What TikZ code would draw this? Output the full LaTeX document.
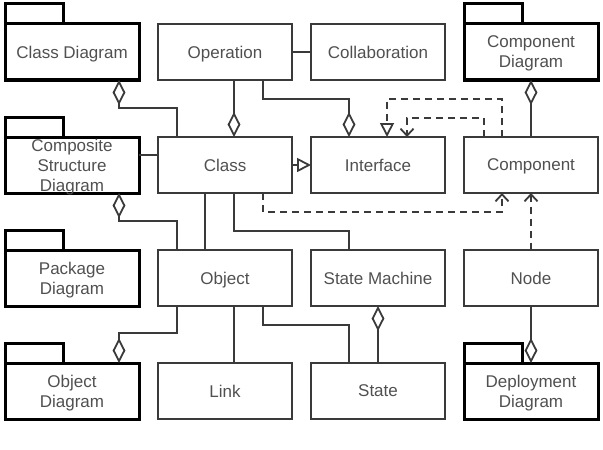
\documentclass[tikz,border=0pt]{standalone}
\usepackage{fontspec}
\setmainfont{Liberation Sans}
\usepackage{tikz}
\usetikzlibrary{
	arrows.meta,
	positioning,
	calc
}
\usepackage{xcolor}
\definecolor{txtgray}{HTML}{505050}
\definecolor{linegray}{HTML}{3A3A3A}

\begin{document}
\begin{tikzpicture}[x=0.5pt,y=-0.5pt,
		box/.style={draw=linegray,line width=0.85pt,minimum width=67pt,minimum height=28pt,
			inner sep=0pt,outer sep=0pt,align=center,text=txtgray,text depth=0pt,
			font=\fontsize{8.5}{10}\selectfont},
		pkg/.style={box,draw=black,line width=1.5pt},
		tab/.style={draw=black,line width=1.5pt},
		conn/.style={draw=linegray,line width=0.9pt},
		agg/.style={conn,-{Diamond[open,length=12.5pt,width=6.4pt]}},
		gen/.style={conn,-{Triangle[open,length=7pt,width=7pt]}},
		dep/.style={conn,dash pattern=on 3.5pt off 2.5pt,-{Straight Barb[length=3.5pt,width=6.5pt]}},
		real/.style={conn,dash pattern=on 3.5pt off 2.5pt,-{Triangle[open,length=7pt,width=7pt]}}]
		
		\useasboundingbox (0,0) rectangle (603,449);
		
		% row 1
		\node[pkg] (clsdiag) at (72,52) {Class Diagram};
		\node[box] (operation) at (225,52) {Operation};
		\node[box] (collab) at (378,52) {Collaboration};
		\node[pkg] (compdiag) at (531,52) {Component\\Diagram};
		
		% row 2
		\node[pkg] (csdiag) at (72,165) {Composite\\Structure\\Diagram};
		\node[box] (class) at (225,165) {Class};
		\node[box] (interface) at (378,165) {Interface};
		\node[box] (component) at (531,165) {Component};
		
		% row 3
		\node[pkg] (pkgdiag) at (72,278) {Package\\Diagram};
		\node[box] (object) at (225,278) {Object};
		\node[box] (statemach) at (378,278) {State Machine};
		\node[box] (hwnode) at (531,278) {Node};
		
		% row 4
		\node[pkg] (objdiag) at (72,391) {Object\\Diagram};
		\node[box] (link) at (225,391) {Link};
		\node[box] (state) at (378,391) {State};
		\node[pkg] (depdiag) at (531,391) {Deployment\\Diagram};
		
		% package tabs
		\foreach \p in {clsdiag,csdiag,pkgdiag,objdiag,compdiag,depdiag}
		\draw[tab] (\p.north west) rectangle ++(58,-20);
		
		% aggregations
		\draw[agg] ($(class.north)+(-48,0)$) |- ($(clsdiag.south)+(47,28)$) -- ($(clsdiag.south)+(47,0)$);
		\draw[agg] ($(operation.south)+(9,0)$) -- ($(class.north)+(9,0)$);
		\draw[agg] ($(operation.south)+(38,0)$) |- ($(interface.north)+(-29,-38)$) -- ($(interface.north)+(-29,0)$);
		\draw[agg] ($(object.north)+(-48,0)$) |- ($(csdiag.south)+(47,28)$) -- ($(csdiag.south)+(47,0)$);
		\draw[agg] ($(object.south)+(-48,0)$) |- ($(objdiag.north)+(47,-30)$) -- ($(objdiag.north)+(47,0)$);
		\draw[agg] (component) -- (compdiag);
		\draw[agg] (hwnode) -- (depdiag);
		\draw[agg] (state) -- (statemach);
		
		% associations
		\draw[conn] (operation) -- (collab);
		\draw[conn] ($(csdiag.east)+(0,-10)$) -- ($(class.west)+(0,-10)$);
		\draw[conn] ($(class.south)+(-20,0)$) -- ($(object.north)+(-20,0)$);
		\draw[conn] ($(class.south)+(9,0)$) |- ($(statemach.north)+(-29,-19)$) -- ($(statemach.north)+(-29,0)$);
		\draw[conn] ($(object.south)+(9,0)$) -- ($(link.north)+(9,0)$);
		\draw[conn] ($(object.south)+(38,0)$) |- ($(state.north)+(-29,-38)$) -- ($(state.north)+(-29,0)$);
		
		% generalization and realization
		\draw[gen] (class) -- (interface);
		\draw[real] ($(component.north)+(-29,0)$) |- ($(interface.north)+(9,-38)$) -- ($(interface.north)+(9,0)$);
		
		% dependencies
		\draw[dep] ($(component.north)+(-47,0)$) |- ($(interface.north)+(29,-19)$) -- ($(interface.north)+(29,0)$);
		\draw[dep] ($(class.south)+(38,0)$) |- ($(component.south)+(-29,19)$) -- ($(component.south)+(-29,0)$);
		\draw[dep] (hwnode) -- (component);
		
	\end{tikzpicture}
\end{document}
